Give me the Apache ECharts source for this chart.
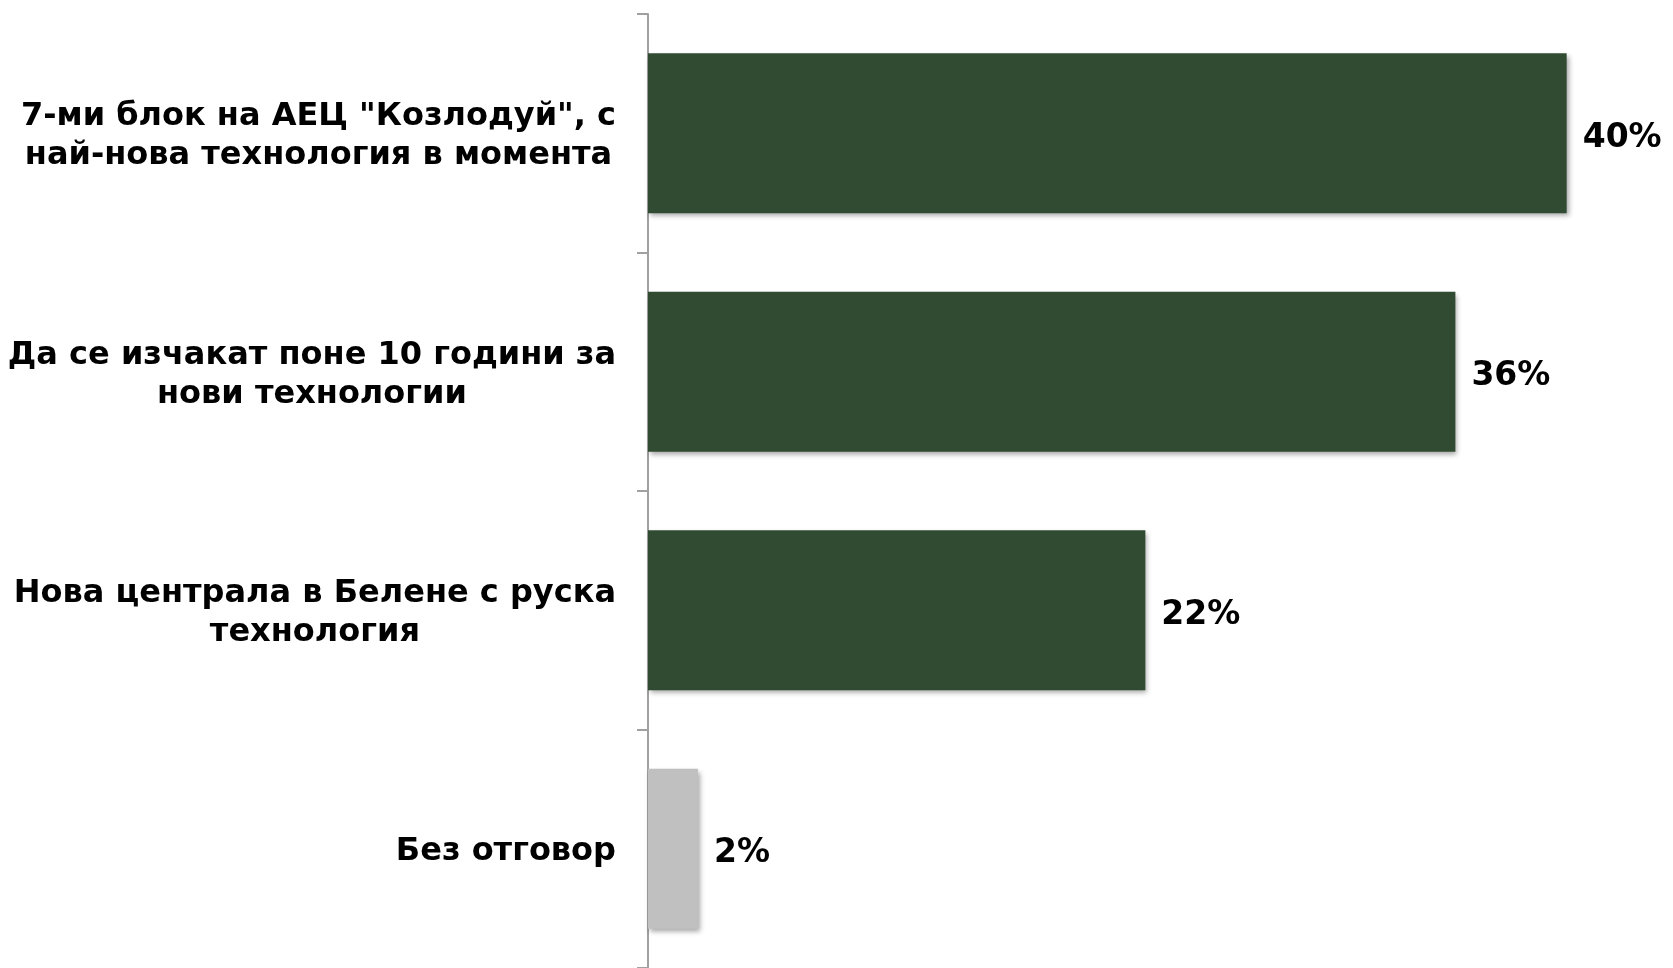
<!DOCTYPE html>
<html>
<head>
<meta charset="utf-8">
<script src="https://cdn.jsdelivr.net/npm/echarts@6/dist/echarts.min.js"></script>
<style>
html,body{margin:0;padding:0;background:#fff;}
#chart{width:1673px;height:968px;}
</style>
</head>
<body>
<div id="chart"></div>
<script>
const categories = [
  '7-ми блок на АЕЦ "Козлодуй", с\nнай-нова технология в момента',
  'Да се изчакат поне 10 години за\nнови технологии',
  'Нова централа в Белене с руска\nтехнология',
  'Без отговор'
];
const values = [40.45, 35.55, 21.9, 2.2];
const barColors = ['#304b32', '#304b32', '#304b32', '#c0c0c0'];

const FONT = 'DejaVu Sans, Verdana, sans-serif';
const chart = echarts.init(document.getElementById('chart'));
chart.setOption({
  animation: false,
  backgroundColor: '#ffffff',
  grid: { left: 648, top: 14, width: 1022, height: 960, containLabel: false },
  xAxis: {
    type: 'value', min: 0, max: 45, show: false
  },
  yAxis: {
    type: 'category',
    inverse: true,
    data: categories,
    axisLine: { show: true, lineStyle: { color: '#a0a0a0', width: 2 } },
    axisTick: { show: true, length: 11, lineStyle: { color: '#a0a0a0', width: 2 } },
    axisLabel: {
      margin: 32,
      align: 'right',
      padding: [6, 0, 0, 0],
      formatter: v => v.split('\n').map(l => '{c|' + l + '}').join('\n'),
      rich: {
        c: { align: 'center', fontSize: 32, fontWeight: 'bold', fontFamily: FONT, color: '#000', lineHeight: 39 }
      }
    },
    splitLine: { show: false }
  },
  series: [{
    type: 'bar',
    barWidth: 160,
    data: values.map((v, i) => ({ value: v, itemStyle: { color: barColors[i] } })),
    itemStyle: {
      shadowColor: 'rgba(0,0,0,0.35)', shadowBlur: 5, shadowOffsetX: 2, shadowOffsetY: 3
    },
    label: {
      show: true, position: 'right', distance: 16, offset: [0, 5],
      formatter: p => Math.round(p.value) + '%',
      fontSize: 33, fontWeight: 'bold', fontFamily: FONT, color: '#000'
    }
  }]
});
</script>
</body>
</html>
